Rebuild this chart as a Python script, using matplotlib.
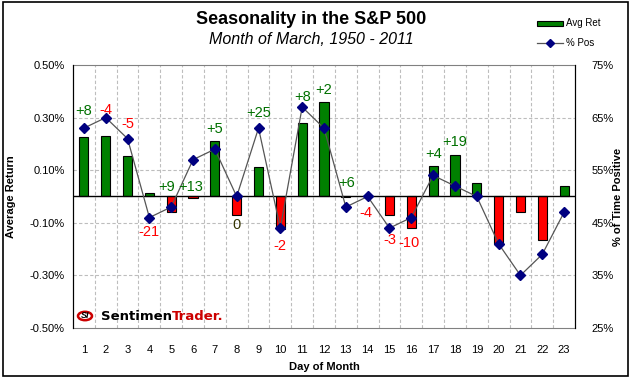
import matplotlib
matplotlib.use("Agg")
import matplotlib.pyplot as plt
from matplotlib.patches import Circle, Rectangle
from matplotlib.lines import Line2D

days = list(range(1, 24))
avg_ret = [0.225, 0.23, 0.154, 0.012, -0.058, -0.007, 0.21, -0.072, 0.111, -0.122,
           0.278, 0.358, -0.003, 0.0, -0.072, -0.121, 0.116, 0.157, 0.05, -0.182,
           -0.058, -0.164, 0.04]
pct_pos = [63, 65, 61, 46, 48, 57, 59, 50, 63, 44, 67, 63, 48, 50, 44, 46, 54, 52,
           50, 41, 35, 39, 47]
change_labels = ["+8", "-4", "-5", "-21", "+9", "+13", "+5", "0", "+25", "-2", "+8",
                 "+2", "+6", "-4", "-3", "-10", "+4", "+19"]
left_ticks = [-0.5, -0.3, -0.1, 0.1, 0.3, 0.5]
right_ticks = [25, 35, 45, 55, 65, 75]

# layout of annotation labels (pixel offsets from the % Pos marker)
label_dy = [17, 8, 15, -14, 20, -27, 20, -29, 15, -18, 10, 38, 24, -17, -12, -25, 21, 44]
label_dx = [0, 0, 0, 0, -5, -2, 0, 0, 0, 0, 0, 0, 1, -2, 0, -2, 0, 0]

FONT = "Liberation Sans"
plt.rcParams["font.family"] = [FONT, "DejaVu Sans"]

fig = plt.figure(figsize=(6.31, 3.78), dpi=100)
fig.patch.set_facecolor("white")
fig.patches.append(Rectangle((0.004, 0.006), 0.992, 0.989, transform=fig.transFigure,
                             fill=False, edgecolor="black", linewidth=1.2))

ax = fig.add_axes([73 / 631, 1 - 328 / 378, 502 / 631, 263 / 378])
colors = ["#008000" if v >= 0 else "#FF0000" for v in avg_ret]
ax.bar(days, avg_ret, width=0.42, color=colors, edgecolor="black", linewidth=0.8, zorder=3)
ax.set_xlim(0.5, 23.5)
ax.set_ylim(-0.5, 0.5)
ax.set_yticks(left_ticks)
ax.set_yticklabels([f"{t:.2f}%" for t in left_ticks], fontsize=8)
ax.set_xticks(days)
ax.set_xticklabels([str(d) for d in days], fontsize=8)
ax.tick_params(axis="both", length=0)
ax.tick_params(axis="x", pad=12)
ax.tick_params(axis="y", pad=6)
ax.axhline(0, color="black", linewidth=1.0, zorder=4)
for t in left_ticks[1:-1]:
    ax.axhline(t, color="#bdbdbd", linestyle=(0, (3, 2)), linewidth=0.8, zorder=0)
for b in range(1, 23):
    ax.axvline(b + 0.5, color="#bdbdbd", linestyle=(0, (3, 2)), linewidth=0.8, zorder=0)
ax.spines["left"].set_color("black")
ax.spines["right"].set_color("black")
ax.spines["top"].set_color("#808080")
ax.spines["bottom"].set_color("#808080")
ax.set_ylabel("Average Return", fontsize=8, fontweight="bold")
ax.yaxis.set_label_coords(-0.113, 0.5)
ax.set_xlabel("Day of Month", fontsize=8, fontweight="bold", labelpad=5)

ax2 = ax.twinx()
ax2.plot(days, pct_pos, color="#555555", linewidth=0.9, marker="D", markersize=5,
         markerfacecolor="#000080", markeredgecolor="#000080", zorder=5)
ax2.set_ylim(25, 75)
ax2.set_yticks(right_ticks)
ax2.set_yticklabels([f"{t}%" for t in right_ticks], fontsize=8)
ax2.tick_params(axis="y", length=0, pad=12)
ax2.set_ylabel("% of Time Positive", fontsize=8, fontweight="bold", rotation=90)
ax2.yaxis.set_label_coords(1.076, 0.5)
for s in ["top", "bottom"]:
    ax2.spines[s].set_visible(False)

for i, lab in enumerate(change_labels):
    if lab.startswith("+"):
        c = "#007000"
    elif lab.startswith("-"):
        c = "#FF0000"
    else:
        c = "#333300"
    ax2.annotate(lab, (days[i], pct_pos[i]), xytext=(label_dx[i], label_dy[i]),
                 textcoords="offset pixels", ha="center", va="center",
                 fontsize=10.5, color=c, zorder=6)

# titles
fig.text(0.493, 1 - 20 / 378, "Seasonality in the S&P 500", ha="center", va="center",
         fontsize=13, fontweight="bold")
fig.text(0.493, 1 - 39 / 378, "Month of March, 1950 - 2011", ha="center", va="center",
         fontsize=11.5, fontstyle="italic")

# legend
fig.patches.append(Rectangle((537 / 631, 1 - 26 / 378), 26 / 631, 5 / 378,
                             transform=fig.transFigure, facecolor="#008000",
                             edgecolor="black", linewidth=0.8))
fig.text(566 / 631, 1 - 23 / 378, "Avg Ret", fontsize=7, va="center")
fig.lines.append(Line2D([537 / 631, 563 / 631], [1 - 43 / 378, 1 - 43 / 378],
                        transform=fig.transFigure, color="#555555", linewidth=0.9))
fig.lines.append(Line2D([550 / 631], [1 - 43 / 378], transform=fig.transFigure,
                        marker="D", markersize=4, color="#000080", linestyle="none"))
fig.text(566 / 631, 1 - 43 / 378, "% Pos", fontsize=7, va="center")

# logo
fig.patches.append(Circle((85 / 631, 1 - 316 / 378), 7 / 631, transform=fig.transFigure,
                          facecolor="white", edgecolor="#cc0000", linewidth=1.8))
fig.text(85 / 631, 1 - 316 / 378, "SI", fontsize=6.5, fontweight="bold", fontstyle="italic",
         ha="center", va="center", color="black")
t1 = fig.text(101 / 631, 1 - 316 / 378, "Sentimen", fontsize=9.5, fontweight="bold",
              ha="left", va="center", color="black", family="DejaVu Sans")
ax.annotate("Trader.", xy=(1, 0.5), xycoords=t1, ha="left", va="center",
            fontsize=9.5, fontweight="bold", color="#cc0000", family="DejaVu Sans",
            annotation_clip=False)

fig.savefig("out.png", dpi=100, facecolor="white")
